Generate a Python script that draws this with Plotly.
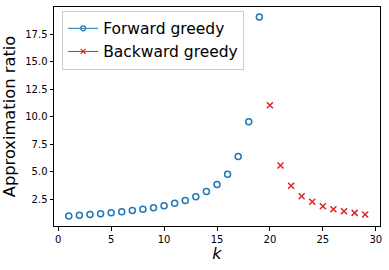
import plotly.graph_objects as go

k_forward = list(range(1, 20))
forward_ratio = [1.0, 1.08, 1.14, 1.22, 1.29, 1.40, 1.50, 1.62, 1.75, 1.93, 2.17, 2.41,
                 2.74, 3.22, 3.86, 4.79, 6.39, 9.55, 19.05]
k_backward = list(range(20, 30))
backward_ratio = [11.05, 5.58, 3.74, 2.80, 2.29, 1.89, 1.62, 1.44, 1.29, 1.14]

blue = "#1f77b4"
red = "#d62728"
font = "DejaVu Sans"

fig = go.Figure()
fig.add_trace(go.Scatter(x=k_forward, y=forward_ratio, mode="markers", showlegend=False,
                         marker=dict(symbol="circle-open", size=6, color=blue, line=dict(width=1.5))))
fig.add_trace(go.Scatter(x=k_backward, y=backward_ratio, mode="markers", showlegend=False,
                         marker=dict(symbol="x-thin-open", size=6, color=red, line=dict(width=1.5, color=red))))
# legend entries (line + marker, matplotlib style)
fig.add_trace(go.Scatter(x=[None], y=[None], mode="lines+markers", name="Forward greedy",
                         line=dict(color=blue, width=1),
                         marker=dict(symbol="circle-open", size=5, color=blue, line=dict(width=1.2))))
fig.add_trace(go.Scatter(x=[None], y=[None], mode="lines+markers", name="Backward greedy",
                         line=dict(color=red, width=1),
                         marker=dict(symbol="x-thin-open", size=5, color=red, line=dict(width=1.2, color=red))))

axis_common = dict(showline=True, linecolor="black", linewidth=1, mirror=True,
                   ticks="outside", ticklen=3.5, tickwidth=1, tickcolor="black",
                   showgrid=False, zeroline=False, automargin=False,
                   tickfont=dict(family=font, size=10, color="black"))

fig.update_layout(
    width=389, height=270,
    margin=dict(l=54, r=9, t=7, b=44),
    paper_bgcolor="white", plot_bgcolor="white",
    font=dict(family=font, color="black"),
    xaxis=dict(range=[-0.4, 30.4], tickvals=[0, 5, 10, 15, 20, 25, 30],
               title=dict(text="<i>k</i>", font=dict(family=font, size=16), standoff=0),
               **axis_common),
    yaxis=dict(range=[0.1, 19.95], tickvals=[2.5, 5.0, 7.5, 10.0, 12.5, 15.0, 17.5],
               ticktext=["2.5", "5.0", "7.5", "10.0", "12.5", "15.0", "17.5"],
               title=dict(text="Approximation ratio", font=dict(family=font, size=16.3), standoff=5),
               **axis_common),
    legend=dict(x=0.025, y=0.983, xanchor="left", yanchor="top",
                bgcolor="rgba(255,255,255,0.8)", bordercolor="#cccccc", borderwidth=1,
                font=dict(family=font, size=15.5), tracegroupgap=0, itemwidth=30),
)

fig.write_html("out.html", config={"displayModeBar": False},
               post_script="document.body.style.margin='0';document.body.style.overflow='hidden';")
